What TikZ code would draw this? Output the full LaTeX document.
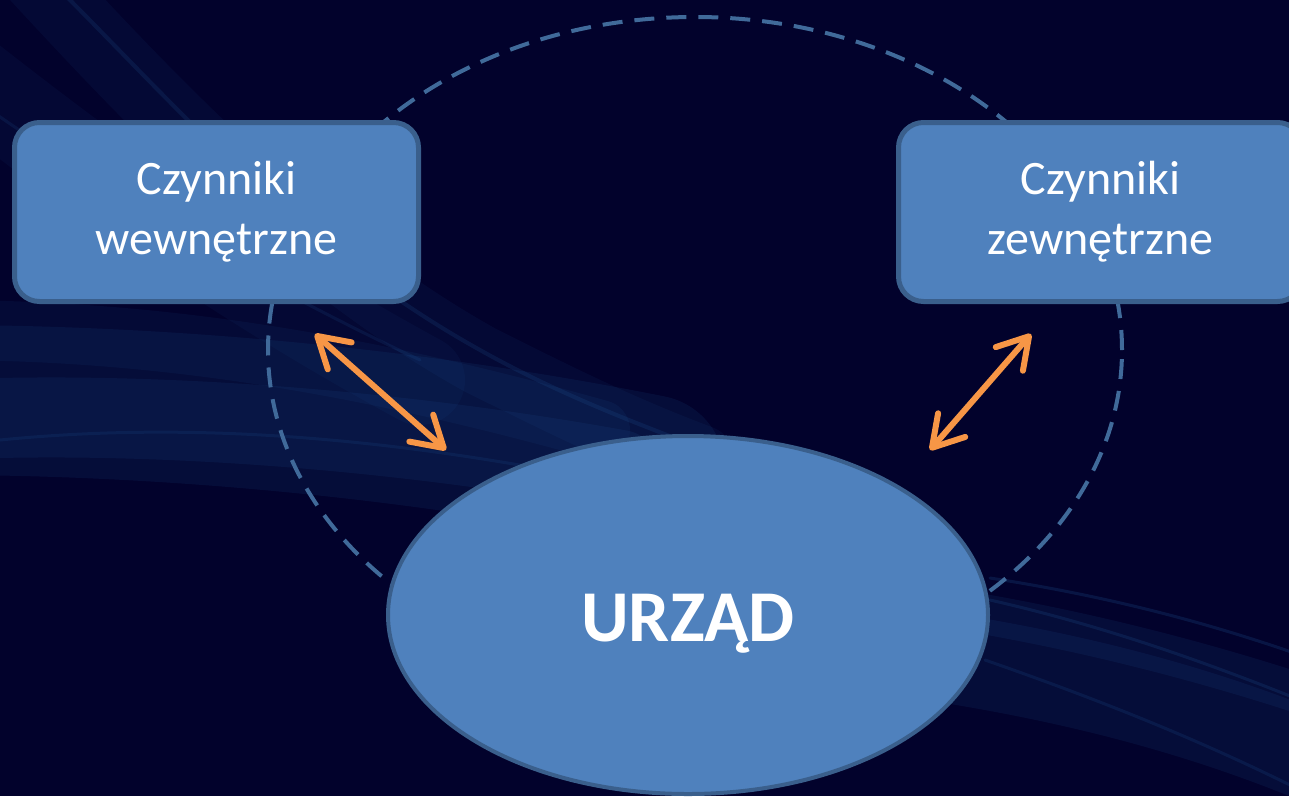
\documentclass[tikz,border=0pt]{standalone}
\usepackage{fontspec}
\setmainfont{Carlito}
\usetikzlibrary{shapes.geometric,arrows.meta}
\definecolor{bgdark}{RGB}{2,2,44}
\definecolor{streak}{RGB}{40,110,180}
\definecolor{boxfill}{RGB}{79,129,189}
\definecolor{boxline}{RGB}{58,95,140}
\definecolor{dashcol}{RGB}{64,106,154}
\definecolor{arrowcol}{RGB}{247,150,70}
\tikzset{
  factorbox/.style={draw=boxline, line width=5pt, fill=boxfill, rounded corners=25pt,
    minimum width=404pt, minimum height=179pt, inner sep=0pt, text=white,
    align=center, font=\fontsize{48}{60}\selectfont},
  centralnode/.style={ellipse, draw=boxline, line width=4pt, fill=boxfill,
    minimum width=600pt, minimum height=358pt, inner sep=0pt, text=white,
    text height=53pt, text depth=0pt,
    font=\fontsize{73}{80}\selectfont\bfseries},
  orbit/.style={draw=dashcol, line width=4pt, dash pattern=on 20pt off 12pt},
  linkarrow/.style={draw=arrowcol, line width=6pt, line cap=round,
    {Straight Barb[length=30pt, width=36pt, line cap=round, line join=round]}-{Straight Barb[length=30pt, width=36pt, line cap=round, line join=round]}},
  glow/.style={draw=streak, line cap=round}
}
\begin{document}
\begin{tikzpicture}[x=1pt,y=-1pt]
\useasboundingbox (0,0) rectangle (1289,796);
\begin{scope}
\clip (0,0) rectangle (1289,796);
\fill[bgdark] (0,0) rectangle (1289,796);
% background streaks, left band
\draw[glow, line width=150pt, opacity=0.10] (-60,400) .. controls (150,400) and (400,420) .. (650,470);
\draw[glow, line width=80pt, opacity=0.10] (-60,420) .. controls (150,410) and (400,430) .. (620,470);
\draw[glow, line width=60pt, opacity=0.08] (-60,330) .. controls (150,330) and (350,360) .. (600,430);
% upper-left streaks
\draw[glow, line width=70pt, opacity=0.07] (30,-30) .. controls (150,100) and (300,260) .. (480,360) .. controls (560,400) and (620,430) .. (700,460);
\draw[glow, line width=90pt, opacity=0.06] (-80,40) .. controls (60,150) and (200,260) .. (420,380);
\draw[glow, line width=4pt, opacity=0.14] (60,-10) .. controls (180,110) and (300,250) .. (480,350) .. controls (560,395) and (640,425) .. (720,455);
\draw[glow, line width=3pt, opacity=0.12] (-10,110) .. controls (120,200) and (250,280) .. (420,360);
\draw[glow, line width=3pt, opacity=0.12] (0,440) .. controls (200,420) and (400,440) .. (600,480);
% right band
\draw[glow, line width=90pt, opacity=0.10] (960,660) .. controls (1080,680) and (1200,710) .. (1320,760);
\draw[glow, line width=40pt, opacity=0.10] (960,610) .. controls (1080,630) and (1200,660) .. (1320,700);
\draw[glow, line width=3pt, opacity=0.18] (990,578) .. controls (1100,595) and (1200,620) .. (1300,655);
\draw[glow, line width=3pt, opacity=0.16] (990,600) .. controls (1100,625) and (1200,660) .. (1300,700);
\draw[glow, line width=3pt, opacity=0.14] (985,660) .. controls (1100,700) and (1200,740) .. (1300,790);
% dashed orbit
\draw[orbit] (695,350) ellipse [x radius=427pt, y radius=333pt];
% nodes
\node[factorbox] (wew) at (216.5,212) {Czynniki\\wewnętrzne};
\node[factorbox] (zew) at (1100.5,212) {Czynniki\\zewnętrzne};
\coordinate (la) at (315,334);
\coordinate (lb) at (446,450);
\coordinate (ra) at (1031,334);
\coordinate (rb) at (930,450);
\draw[linkarrow] (la) -- (lb);
\draw[linkarrow] (ra) -- (rb);
\node[centralnode] (urzad) at (688,615) {URZĄD};
\end{scope}
\end{tikzpicture}
\end{document}
